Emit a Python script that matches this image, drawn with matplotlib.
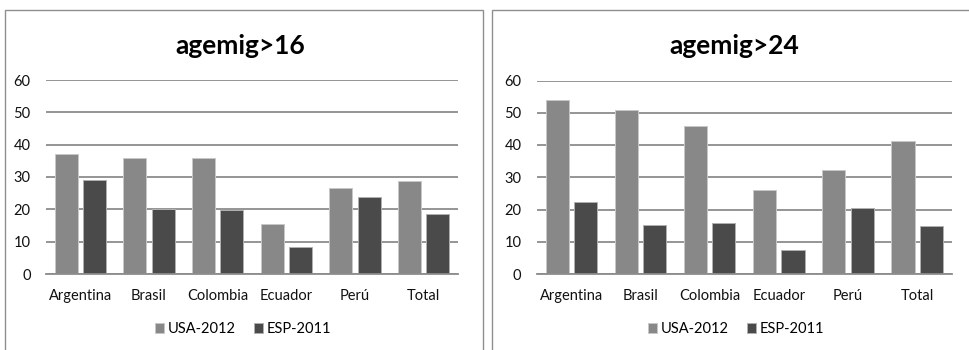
import matplotlib
matplotlib.use("Agg")
import matplotlib.pyplot as plt
from matplotlib.patches import Rectangle
import numpy as np

categories = ["Argentina", "Brasil", "Colombia", "Ecuador", "Perú", "Total"]
series_names = ["USA-2012", "ESP-2011"]

usa_16 = [37.1, 35.8, 35.8, 15.5, 26.7, 28.9]
esp_16 = [29.2, 20.0, 19.8, 8.4, 23.8, 18.5]

usa_24 = [53.8, 50.9, 46.0, 26.0, 32.2, 41.2]
esp_24 = [22.4, 15.1, 15.9, 7.5, 20.5, 14.8]

titles = ["agemig>16", "agemig>24"]
yticks = [0, 10, 20, 30, 40, 50, 60]

USA_COLOR = "#888888"
ESP_COLOR = "#4a4a4a"
GRID_COLOR = "#8c8c8c"
FONT = "Lato"

W, H = 969, 350
fig = plt.figure(figsize=(W / 100, H / 100), dpi=100)
fig.patch.set_facecolor("white")


def px_axes(x0, y0, x1, y1):
    """Axes placed by pixel box (top-left origin)."""
    return fig.add_axes([x0 / W, (H - y1) / H, (x1 - x0) / W, (y1 - y0) / H])


def frame(x0, y0, x1, y1):
    fig.patches.append(Rectangle((x0 / W, (H - y1) / H), (x1 - x0) / W, (y1 - y0) / H,
                                 transform=fig.transFigure, fill=False,
                                 edgecolor="#8f8f8f", linewidth=1.0))


panels = [
    dict(box=(46, 80, 458, 274), frame=(5, 9.5, 483, 360), title_x=240.5, legend_x=243,
         usa=usa_16, esp=esp_16, title=titles[0]),
    dict(box=(536.7, 80.5, 951.7, 274), frame=(491.5, 9.5, 980, 360), title_x=734, legend_x=736,
         usa=usa_24, esp=esp_24, title=titles[1]),
]

x = np.arange(len(categories))
bw = 0.335
off = 0.205

for p in panels:
    frame(*p["frame"])
    ax = px_axes(*p["box"])
    ax.set_xlim(-0.5, len(categories) - 0.5)
    ax.set_ylim(0, 60)
    ax.set_yticks(yticks)
    ax.yaxis.grid(True, color=GRID_COLOR, linewidth=1.3)
    ax.set_axisbelow(True)
    for s in ["top", "right", "left"]:
        ax.spines[s].set_visible(False)
    ax.spines["bottom"].set_color(GRID_COLOR)
    ax.spines["bottom"].set_linewidth(1.3)
    ax.spines["bottom"].set_zorder(3)

    b1 = ax.bar(x - off, p["usa"], bw, color=USA_COLOR, edgecolor="#c8c8c8",
                linewidth=0.7, label=series_names[0], zorder=2)
    b2 = ax.bar(x + off, p["esp"], bw, color=ESP_COLOR, edgecolor="#b0b0b0",
                linewidth=0.7, label=series_names[1], zorder=2)

    ax.set_xticks(x)
    ax.set_xticklabels(categories, fontfamily=FONT, fontsize=10.5)
    ax.tick_params(axis="x", length=0, pad=10.5, colors="#111111")
    ax.tick_params(axis="y", length=0, pad=11, colors="#111111")
    for lab in ax.get_yticklabels():
        lab.set_fontfamily(FONT)
        lab.set_fontsize(10.5)

    fig.text(p["title_x"] / W, (H - 46) / H, p["title"], ha="center", va="center",
             fontfamily=FONT, fontweight="bold", fontsize=19)

    fig.legend([b1, b2], series_names, loc="center",
               bbox_to_anchor=(p["legend_x"] / W, (H - 329) / H),
               ncol=2, frameon=False, handlelength=0.62, handleheight=0.62,
               handletextpad=0.3, columnspacing=1.2,
               prop={"family": FONT, "size": 10.5})

fig.savefig("out.png", dpi=100)
